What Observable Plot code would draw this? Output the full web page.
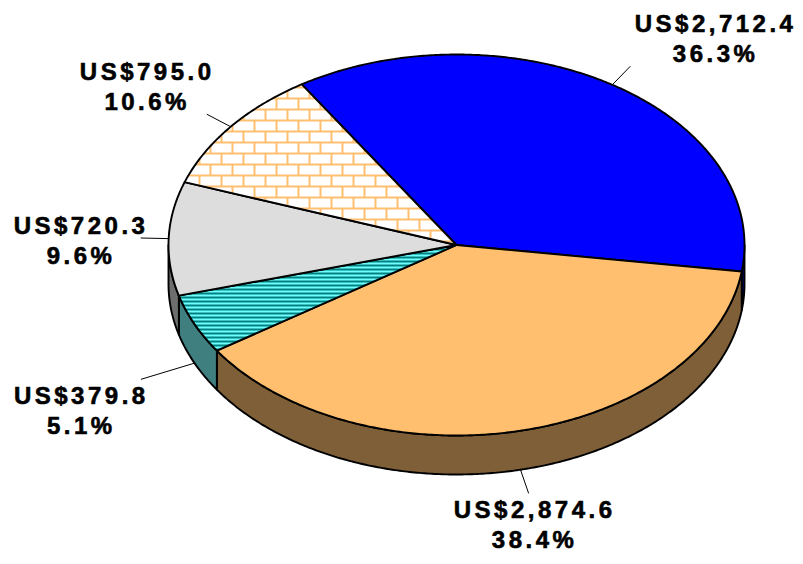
<!DOCTYPE html>
<html><head><meta charset="utf-8">
<script src="https://cdn.jsdelivr.net/npm/d3@7"></script>
<script src="https://cdn.jsdelivr.net/npm/@observablehq/plot@0.6"></script>
<style>body{margin:0;background:#fff}#chart{width:803px;height:564px}</style>
</head><body><div id="chart"></div>
<script>
// ---- data ----
const sliceIds = ["s1", "s2", "s3", "s4", "s5"];
const values = [2712.4, 2874.6, 379.8, 720.3, 795.0];
const percentLabels = ["36.3%", "38.4%", "5.1%", "9.6%", "10.6%"];
// ---- styles ----
const topFills = ["#0000FF", "#FFBF6E", "url(#stripes)", "#DDDDDD", "url(#bricks)"];
const sideFills = ["#00007F", "#7F5F37", "#3F7F7F", "#6E6E6E", "#7F5F37"];
const leaderLen = [26, 25, 56, 28, 27];

const W = 803, H = 564;
const cx = 456, cy = 244.5, rx = 288, ry = 190.5, depth = 39, startDeg = -122.5;
const FS = 24, LS = 3.5;

const total = d3.sum(values);
let acc = startDeg;
const slices = values.map((v, i) => {
  const a0 = acc, a1 = acc + v / total * 360; acc = a1;
  return {i, id: sliceIds[i], v, a0, a1, mid: (a0 + a1) / 2};
});
const rad = d => d * Math.PI / 180;
const px = t => cx + rx * Math.cos(rad(t));
const py = t => cy + ry * Math.sin(rad(t));
function arc(a0, a1, dy = 0) {
  const n = Math.max(2, Math.ceil(Math.abs(a1 - a0) * 2));
  return d3.range(n + 1).map(k => { const t = a0 + (a1 - a0) * k / n; return [px(t), py(t) + dy]; });
}

// walls (visible front part: 0..180 deg)
const wallPts = [];
slices.forEach(s => {
  for (const off of [-360, 0, 360]) {
    const lo = Math.max(s.a0, off), hi = Math.min(s.a1, off + 180);
    if (hi > lo) {
      const pts = arc(lo, hi, 0).concat(arc(hi, lo, depth));
      pts.push(pts[0]);
      pts.forEach(p => wallPts.push({id: s.id + "w" + off, x: p[0], y: p[1], fill: sideFills[s.i]}));
    }
  }
});
// tops
const topPts = [];
slices.forEach(s => {
  const pts = [[cx, cy]].concat(arc(s.a0, s.a1, 0)); pts.push([cx, cy]);
  pts.forEach(p => topPts.push({id: s.id, x: p[0], y: p[1], fill: topFills[s.i]}));
});

// labels & leaders
const cv = document.createElement("canvas").getContext("2d");
cv.font = `bold ${FS}px "Liberation Sans"`;
const fmt = d3.format(",.1f");
const leaders = [], labels = [];
slices.forEach(s => {
  const c = Math.cos(rad(s.mid)), sn = Math.sin(rad(s.mid));
  const sx0 = px(s.mid), sy0 = py(s.mid) + (sn > 0 ? depth : 0);
  const dx = rx * c, dy = ry * sn, len = Math.hypot(dx, dy);
  const ex = sx0 + dx / len * leaderLen[s.i], ey = sy0 + dy / len * leaderLen[s.i];
  leaders.push({x1: sx0, y1: sy0, x2: ex, y2: ey});
  const line1 = "US$" + fmt(s.v);
  const w = cv.measureText(line1).width + LS * (line1.length - 1);
  const sx = c > 0.5 ? 1 : c < -0.5 ? -1 : 0;
  const sy = sn > 0.3 ? 1 : sn < -0.3 ? -1 : 0;
  labels.push({x: ex + sx * w / 2 + 6, y: ey + sy * 29.5 + 1, text: line1 + "\n" + percentLabels[s.i]});
});

const svg = Plot.plot({
  width: W, height: H, margin: 0,
  x: {type: "identity", axis: null},
  y: {type: "identity", axis: null},
  color: {type: "identity"},
  style: {background: "#fff", overflow: "visible"},
  marks: [
    Plot.line(wallPts, {x: "x", y: "y", z: "id", fill: "fill", stroke: "#000", strokeWidth: 1.9, strokeLinejoin: "round", curve: "linear"}),
    Plot.line(topPts, {x: "x", y: "y", z: "id", fill: "fill", stroke: "#000", strokeWidth: 1.9, strokeLinejoin: "round", curve: "linear"}),
    Plot.link(leaders, {x1: "x1", y1: "y1", x2: "x2", y2: "y2", stroke: "#000", strokeWidth: 1}),
    Plot.text(labels, {x: "x", y: "y", text: "text", fontSize: FS, fontWeight: "bold",
      fontFamily: "'Liberation Sans', Arial, sans-serif", lineHeight: 1.25,
      textAnchor: "middle", lineAnchor: "middle", fill: "#000", stroke: "#000", strokeWidth: 0.6})
  ]
});
svg.style.letterSpacing = LS + "px";
const defs = d3.select(svg).insert("defs", ":first-child");
const st = defs.append("pattern").attr("id", "stripes").attr("patternUnits", "userSpaceOnUse")
  .attr("width", 8).attr("height", 4);
st.append("rect").attr("width", 8).attr("height", 4).attr("fill", "#70FFFF");
st.append("rect").attr("width", 8).attr("height", 2).attr("fill", "#007F7F");
const br = defs.append("pattern").attr("id", "bricks").attr("patternUnits", "userSpaceOnUse")
  .attr("width", 22).attr("height", 22);
br.append("rect").attr("width", 22).attr("height", 22).attr("fill", "#FFBF6E");
br.append("rect").attr("x", 2).attr("y", 0).attr("width", 20).attr("height", 9).attr("fill", "#fff");
br.append("rect").attr("x", 0).attr("y", 11).attr("width", 11).attr("height", 9).attr("fill", "#fff");
br.append("rect").attr("x", 13).attr("y", 11).attr("width", 9).attr("height", 9).attr("fill", "#fff");
document.getElementById("chart").appendChild(svg);
</script>
</body></html>
